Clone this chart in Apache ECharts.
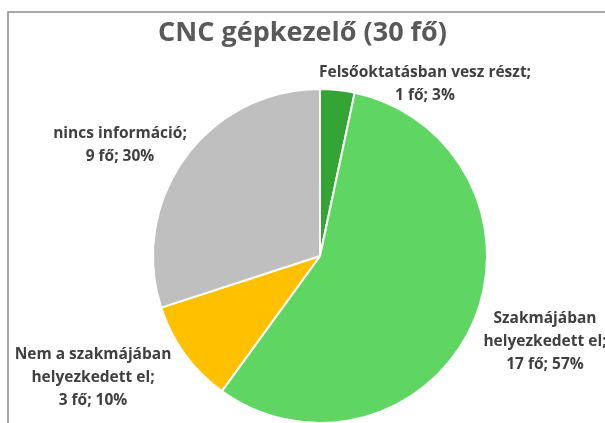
<!DOCTYPE html>
<html>
<head>
<meta charset="utf-8">
<script src="https://cdn.jsdelivr.net/npm/echarts@6/dist/echarts.min.js"></script>
<style>
  html, body { margin: 0; padding: 0; background: #fff; }
  #chart { width: 605px; height: 423px; }
</style>
</head>
<body>
<div id="chart"></div>
<script>
const TITLE = "CNC gépkezelő (30 fő)";
const categories = [
  "Felsőoktatásban vesz részt",
  "Szakmájában helyezkedett el",
  "Nem a szakmájában helyezkedett el",
  "nincs információ",
];
// how each category name is broken into lines in the label
const nameLines = [
  ["Felsőoktatásban vesz részt;"],
  ["Szakmájában", "helyezkedett el;"],
  ["Nem a szakmájában", "helyezkedett el;"],
  ["nincs információ;"],
];
const counts = [1, 17, 3, 9];
const colors = ["#34a534", "#5fd662", "#ffc000", "#bfbfbf"];

// label anchors (centre of each text block)
const labelAnchors = [
  [425, 84],
  [545, 342],
  [93, 378],
  [120, 145],
];

const chart = echarts.init(document.getElementById("chart"));

chart.setOption({
  backgroundColor: "#fff",
  animation: false,
  title: {
    text: TITLE,
    left: "center",
    top: 15,
    textStyle: {
      color: "#595959",
      fontFamily: "Open Sans",
      fontSize: 27,
      fontWeight: "bold",
    },
  },
  graphic: [
    {
      type: "polyline",
      silent: true,
      shape: { points: [[8, 423], [8, 12], [605, 12]] },
      style: { stroke: "#8c8c8c", lineWidth: 1.5, fill: null },
    },
  ],
  series: [
    {
      type: "pie",
      center: [320, 256],
      radius: 167,
      startAngle: 90,
      clockwise: true,
      percentPrecision: 0,
      itemStyle: { borderColor: "#fff", borderWidth: 2 },
      label: {
        show: true,
        position: "outside",
        color: "#404040",
        fontFamily: "Open Sans",
        fontSize: 15.5,
        fontWeight: "bold",
        lineHeight: 23,
        align: "center",
        overflow: "none",
        formatter(params) {
          return [...nameLines[params.dataIndex], `${params.value} fő; ${params.percent}%`].join("\n");
        },
      },
      labelLine: { show: false },
      labelLayout(params) {
        const anchor = labelAnchors[params.dataIndex];
        return {
          x: anchor[0],
          y: anchor[1],
          align: "center",
          verticalAlign: "middle",
          width: 400,
        };
      },
      data: categories.map((name, i) => ({
        name,
        value: counts[i],
        itemStyle: { color: colors[i] },
      })),
    },
  ],
});

window.addEventListener("resize", () => chart.resize());
</script>
</body>
</html>
